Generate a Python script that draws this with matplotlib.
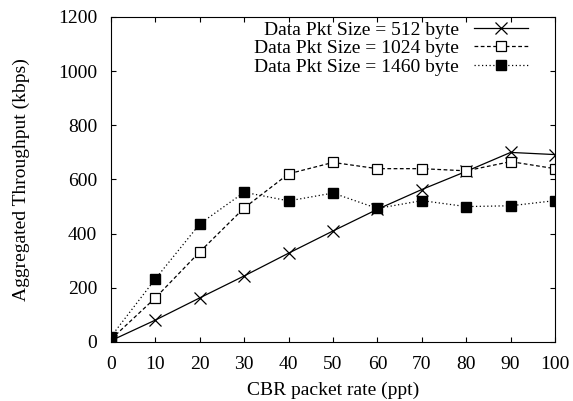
import matplotlib.pyplot as plt

plt.rcParams['font.family'] = ['Liberation Serif', 'DejaVu Serif']

rate = [0, 10, 20, 30, 40, 50, 60, 70, 80, 90, 100]
thr_512 = [5, 81, 163, 244, 328, 410, 490, 563, 630, 700, 692]
thr_1024 = [10, 163, 333, 495, 621, 663, 640, 640, 632, 666, 640]
thr_1460 = [20, 233, 436, 553, 521, 550, 493, 522, 500, 503, 522]

fig = plt.figure(figsize=(5.73, 4.01), dpi=100)
ax = fig.add_axes([111/573, 1 - 342/401, 444/573, 325/401])

ax.plot(rate, thr_512, color='black', lw=0.9, linestyle='-', marker='x',
        markersize=8, markeredgewidth=0.9, label='Data Pkt Size = 512 byte')
ax.plot(rate, thr_1024, color='black', lw=0.9, linestyle=(0, (3, 2)), marker='s',
        markersize=7, markerfacecolor='white', markeredgewidth=0.9,
        label='Data Pkt Size = 1024 byte')
ax.plot(rate, thr_1460, color='black', lw=0.9, linestyle=(0, (1, 2)), marker='s',
        markersize=7.5, markerfacecolor='black', label='Data Pkt Size = 1460 byte')

ax.set_xlim(0, 100)
ax.set_ylim(0, 1200)
ax.set_xticks(range(0, 101, 10))
ax.set_yticks(range(0, 1201, 200))
ax.tick_params(direction='in', length=3.5, top=True, right=True, labelsize=14)
ax.tick_params(axis='y', pad=10)
ax.tick_params(axis='x', pad=10)
ax.set_xlabel('CBR packet rate (ppt)', fontsize=14, labelpad=6.5)
ax.set_ylabel('Aggregated Throughput (kbps)', fontsize=14, labelpad=20)

ax.legend(loc='upper right', frameon=False, markerfirst=False, fontsize=14,
          handlelength=2.8, labelspacing=0.05, borderaxespad=0, borderpad=0,
          handletextpad=0.75, bbox_to_anchor=((528 - 111) / 444, 1 - 4 / 325))

fig.savefig('out.png', dpi=100)
